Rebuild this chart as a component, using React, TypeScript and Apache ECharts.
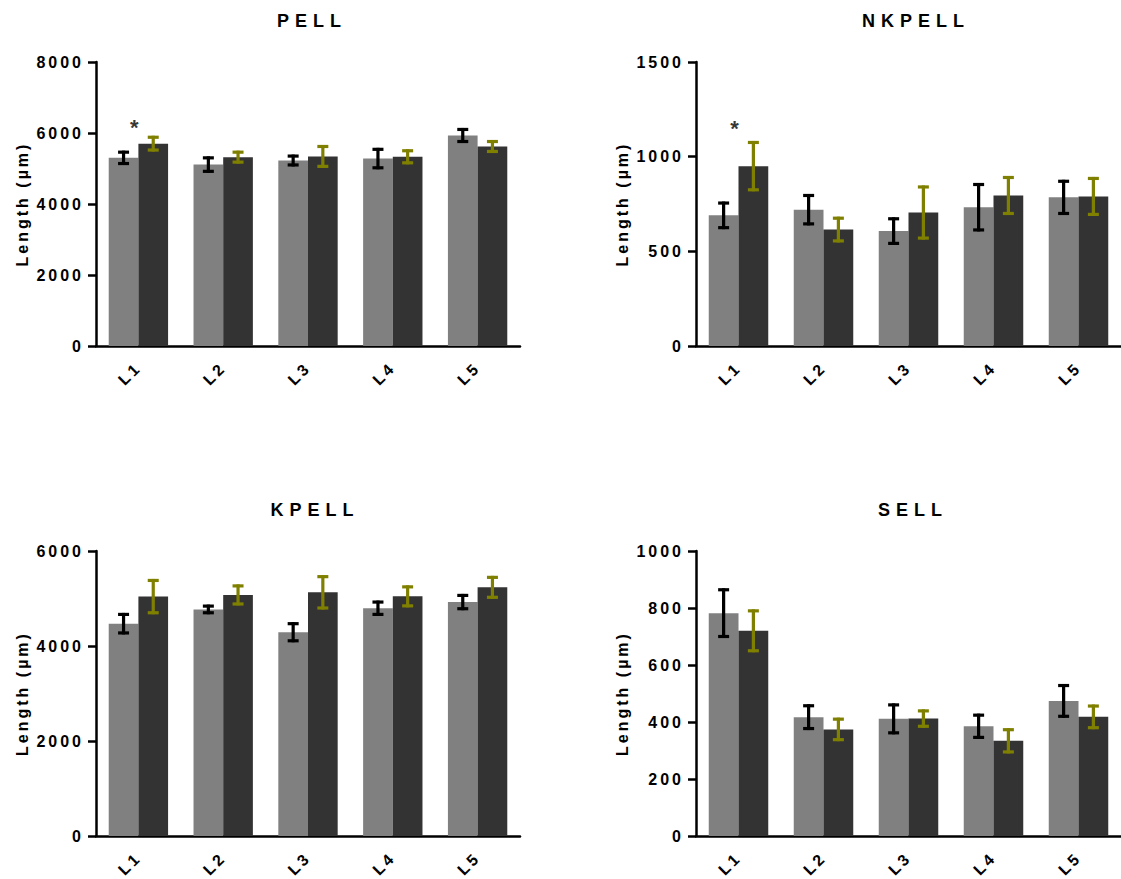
import React, { useEffect, useRef } from "react";
import * as echarts from "echarts";

const categories = ["L1", "L2", "L3", "L4", "L5"];

const panelTitles = ["PELL", "NKPELL", "KPELL", "SELL"];
const yMax = [8000, 1500, 6000, 1000];
const yInterval = [2000, 500, 2000, 200];

// PELL
const pellCtrl = [5300, 5110, 5225, 5280, 5930];
const pellCtrlErr = [160, 190, 125, 260, 170];
const pellTrt = [5700, 5320, 5340, 5330, 5620];
const pellTrtErr = [180, 140, 280, 170, 140];
// NKPELL
const nkpellCtrl = [690, 720, 607, 733, 785];
const nkpellCtrlErr = [65, 75, 65, 120, 85];
const nkpellTrt = [950, 615, 705, 795, 790];
const nkpellTrtErr = [125, 60, 135, 95, 95];
// KPELL
const kpellCtrl = [4470, 4770, 4290, 4795, 4925];
const kpellCtrlErr = [195, 70, 180, 130, 140];
const kpellTrt = [5040, 5075, 5130, 5045, 5235];
const kpellTrtErr = [340, 190, 330, 200, 210];
// SELL
const sellCtrl = [782, 417, 411, 385, 474];
const sellCtrlErr = [82, 40, 49, 39, 54];
const sellTrt = [720, 374, 412, 334, 418];
const sellTrtErr = [70, 36, 27, 39, 38];

// significance marks: [panel index, category, y position]
const sigMarks: [number, string, number][] = [
  [0, "L1", 6150],
  [1, "L1", 1150],
];

const panels = [
  { ctrl: pellCtrl, ctrlErr: pellCtrlErr, trt: pellTrt, trtErr: pellTrtErr },
  { ctrl: nkpellCtrl, ctrlErr: nkpellCtrlErr, trt: nkpellTrt, trtErr: nkpellTrtErr },
  { ctrl: kpellCtrl, ctrlErr: kpellCtrlErr, trt: kpellTrt, trtErr: kpellTrtErr },
  { ctrl: sellCtrl, ctrlErr: sellCtrlErr, trt: sellTrt, trtErr: sellTrtErr },
];

const FONT = "'Liberation Sans', Arial, sans-serif";
const grids = [
  { left: 96, top: 62, width: 424, height: 284 },
  { left: 696, top: 62, width: 425, height: 284 },
  { left: 96, top: 551, width: 424, height: 285 },
  { left: 696, top: 551, width: 425, height: 285 },
];
const titlePos = [
  { left: 307, top: 7 },
  { left: 911, top: 7 },
  { left: 310, top: 496 },
  { left: 908, top: 496 },
];

function errRender(side: number, color: string) {
  return (params: any, api: any) => {
    const idx = api.value(0);
    const v = api.value(1);
    const e = api.value(2);
    const band = api.size([1, 0])[0];
    const cx = api.coord([idx, v])[0] + side * band * 0.175;
    const yt = api.coord([idx, v + e])[1];
    const yb = api.coord([idx, v - e])[1];
    const hw = 5.5;
    const st = { stroke: color, lineWidth: 3.2, fill: "none" };
    return {
      type: "group",
      children: [
        { type: "line", shape: { x1: cx, y1: yt - 1.5, x2: cx, y2: yb + 1.5 }, style: st },
        { type: "line", shape: { x1: cx - hw, y1: yt, x2: cx + hw, y2: yt }, style: st },
        { type: "line", shape: { x1: cx - hw, y1: yb, x2: cx + hw, y2: yb }, style: st },
      ],
    };
  };
}

export default function App() {
  const ref = useRef<HTMLDivElement>(null);
  useEffect(() => {
    if (!ref.current) return;
    const chart = echarts.init(ref.current, undefined, { renderer: "svg" });
    const series: any[] = [];
    panels.forEach((p, i) => {
      series.push({
        type: "bar",
        xAxisIndex: i,
        yAxisIndex: i,
        data: p.ctrl,
        itemStyle: { color: "#808080" },
        barGap: "0%",
        barCategoryGap: "30%",
      });
      series.push({
        type: "bar",
        xAxisIndex: i,
        yAxisIndex: i,
        data: p.trt,
        itemStyle: { color: "#333333" },
        barGap: "0%",
        barCategoryGap: "30%",
      });
      series.push({
        type: "custom",
        xAxisIndex: i,
        yAxisIndex: i,
        z: 5,
        renderItem: errRender(-1, "#000000"),
        encode: { x: 0, y: 1 },
        data: categories.map((c, k) => [k, p.ctrl[k], p.ctrlErr[k]]),
      });
      series.push({
        type: "custom",
        xAxisIndex: i,
        yAxisIndex: i,
        z: 5,
        renderItem: errRender(1, "#808000"),
        encode: { x: 0, y: 1 },
        data: categories.map((c, k) => [k, p.trt[k], p.trtErr[k]]),
      });
      const marks = sigMarks.filter((m) => m[0] === i);
      if (marks.length) {
        series.push({
          type: "scatter",
          xAxisIndex: i,
          yAxisIndex: i,
          symbolSize: 0,
          z: 6,
          data: marks.map((m) => [m[1], m[2]]),
          label: {
            show: true,
            position: "inside",
            offset: [-4, 0],
            formatter: "*",
            fontSize: 22,
            fontWeight: "bold",
            fontFamily: FONT,
            color: "#000",
          },
        });
      }
    });

    chart.setOption({
      animation: false,
      textStyle: { fontFamily: FONT },
      title: panelTitles.map((t, i) => ({
        text: t,
        left: titlePos[i].left,
        top: titlePos[i].top,
        textAlign: "center",
        textStyle: { fontSize: 18, fontWeight: "bold", color: "#000", fontFamily: FONT },
      })),
      grid: grids,
      xAxis: grids.map((g, i) => ({
        type: "category",
        gridIndex: i,
        data: categories,
        axisLine: { lineStyle: { color: "#000", width: 2.5 } },
        axisTick: { alignWithLabel: true, length: 7, lineStyle: { color: "#000", width: 2.5 } },
        axisLabel: {
          rotate: 45,
          margin: 19,
          fontSize: 16,
          fontWeight: "bold",
          color: "#000",
          fontFamily: FONT,
        },
      })),
      yAxis: grids.map((g, i) => ({
        type: "value",
        gridIndex: i,
        min: 0,
        max: yMax[i],
        interval: yInterval[i],
        name: "Length (µm)",
        nameLocation: "middle",
        nameGap: 66,
        nameTextStyle: { fontSize: 16, fontWeight: "bold", color: "#000", fontFamily: FONT },
        splitLine: { show: false },
        axisLine: { show: true, lineStyle: { color: "#000", width: 2.5 } },
        axisTick: { show: true, length: 8, lineStyle: { color: "#000", width: 2.5 } },
        axisLabel: {
          margin: 12,
          fontSize: 16,
          fontWeight: "bold",
          color: "#000",
          fontFamily: FONT,
          formatter: (v: number) => String(v),
        },
      })),
      series,
    });
    return () => chart.dispose();
  }, []);
  return (
    <>
      <style>{`
        #chart svg text[style*="18px"] { letter-spacing: 6px; }
        #chart svg text[style*="16px"] { letter-spacing: 3px; }
      `}</style>
      <div
        id="chart"
        ref={ref}
        style={{ position: "absolute", left: 0, top: 0, width: 1121, height: 879, background: "#fff" }}
      />
    </>
  );
}
